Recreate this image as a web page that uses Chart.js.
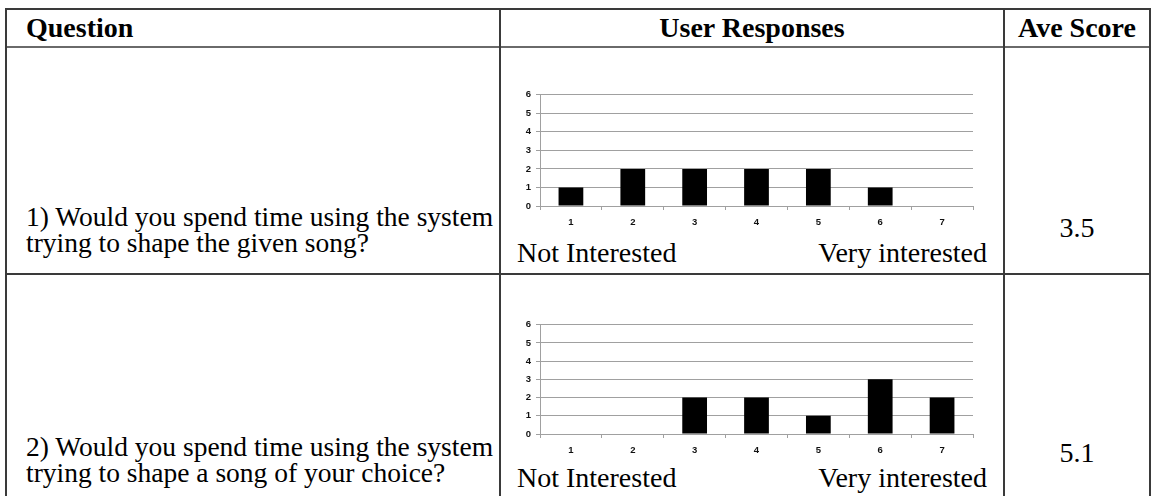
<!DOCTYPE html>
<html>
<head>
<meta charset="utf-8">
<script src="https://cdn.jsdelivr.net/npm/chart.js@4.4.1/dist/chart.umd.min.js"></script>
<style>
  html, body { margin:0; padding:0; background:#fff; width:1151px; height:496px; overflow:hidden; }
  .ln { position:absolute; background:#3a3a3a; }
  .t { position:absolute; font-family:"Liberation Serif","Times New Roman",serif; font-size:28px; line-height:28px; color:#000; white-space:nowrap; }
  .b { font-weight:bold; }
  canvas { position:absolute; }
</style>
</head>
<body>
<!-- table lines -->
<div class="ln" style="left:5px;top:8px;width:1146px;height:2px;"></div>
<div class="ln" style="left:5px;top:46px;width:1146px;height:2px;background:#6a6a6a;"></div>
<div class="ln" style="left:5px;top:273px;width:1146px;height:2px;"></div>
<div class="ln" style="left:5px;top:8px;width:2px;height:488px;"></div>
<div class="ln" style="left:499px;top:8px;width:2px;height:488px;"></div>
<div class="ln" style="left:1003px;top:8px;width:2px;height:488px;"></div>
<div class="ln" style="left:1149px;top:8px;width:2px;height:488px;"></div>

<div class="t b" style="left:26px;top:14px;">Question</div>
<div class="t b" style="left:501px;width:502px;text-align:center;top:14px;">User Responses</div>
<div class="t b" style="left:1005px;width:144px;text-align:center;top:14px;">Ave Score</div>

<div class="t" id="q1" style="left:26px;top:204px;line-height:26px;font-size:27.5px;"></div>
<div class="t" id="q2" style="left:26px;top:434px;line-height:26px;font-size:27.5px;"></div>

<div class="t" id="lo1" style="left:517px;top:239px;"></div>
<div class="t" id="hi1" style="left:780px;width:207px;text-align:right;top:239px;"></div>
<div class="t" id="lo2" style="left:517px;top:464px;"></div>
<div class="t" id="hi2" style="left:780px;width:207px;text-align:right;top:464px;"></div>

<div class="t" id="s1" style="left:1005px;width:144px;text-align:center;top:214px;"></div>
<div class="t" id="s2" style="left:1005px;width:144px;text-align:center;top:439px;"></div>

<canvas id="c1" width="475" height="150" style="left:505px;top:84px;"></canvas>
<canvas id="c2" width="475" height="148" style="left:505px;top:314px;"></canvas>

<script>
const categories = ["1","2","3","4","5","6","7"];
const responsesQ1 = [1,2,2,2,2,1,0];
const responsesQ2 = [0,0,2,2,1,3,2];
const yTicks = [0,1,2,3,4,5,6];
const questions = [
  "1) Would you spend time using the system<br>trying to shape the given song?",
  "2) Would you spend time using the system<br>trying to shape a song of your choice?"
];
const aveScores = ["3.5","5.1"];
const lowLabel = "Not Interested";
const highLabel = "Very interested";

document.getElementById('q1').innerHTML = questions[0];
document.getElementById('q2').innerHTML = questions[1];
document.getElementById('s1').textContent = aveScores[0];
document.getElementById('s2').textContent = aveScores[1];
['lo1','lo2'].forEach(id => document.getElementById(id).textContent = lowLabel);
['hi1','hi2'].forEach(id => document.getElementById(id).textContent = highLabel);

function makeChart(id, values) {
  const tickFont = { family: "Liberation Sans", size: 9.5, weight: "bold" };
  return new Chart(document.getElementById(id), {
    type: 'bar',
    data: {
      labels: categories,
      datasets: [{
        data: values,
        backgroundColor: '#000000',
        borderColor: '#333333',
        borderWidth: 0,
        barPercentage: 0.4,
        categoryPercentage: 1.0
      }]
    },
    options: {
      responsive: false,
      animation: false,
      devicePixelRatio: 1,
      layout: { padding: { top: 10, right: 7, left: 0, bottom: 0 } },
      plugins: { legend: { display: false }, tooltip: { enabled: false } },
      scales: {
        x: {
          offset: true,
          grid: { display: true, drawOnChartArea: false, tickLength: 4, color: '#a0a0a0', offset: true },
          border: { color: '#a0a0a0' },
          ticks: { font: tickFont, color: '#111', padding: 7, maxRotation: 0 },
          afterFit: s => { s.height = 28; }
        },
        y: {
          min: 0, max: 6,
          afterBuildTicks: s => { s.ticks = yTicks.map(v => ({ value: v })); },
          grid: { color: '#a0a0a0', tickLength: 4 },
          border: { color: '#a0a0a0' },
          ticks: { font: tickFont, color: '#111', padding: 5 },
          afterFit: s => { s.width = 35; }
        }
      }
    }
  });
}
makeChart('c1', responsesQ1);
makeChart('c2', responsesQ2);
</script>
</body>
</html>
